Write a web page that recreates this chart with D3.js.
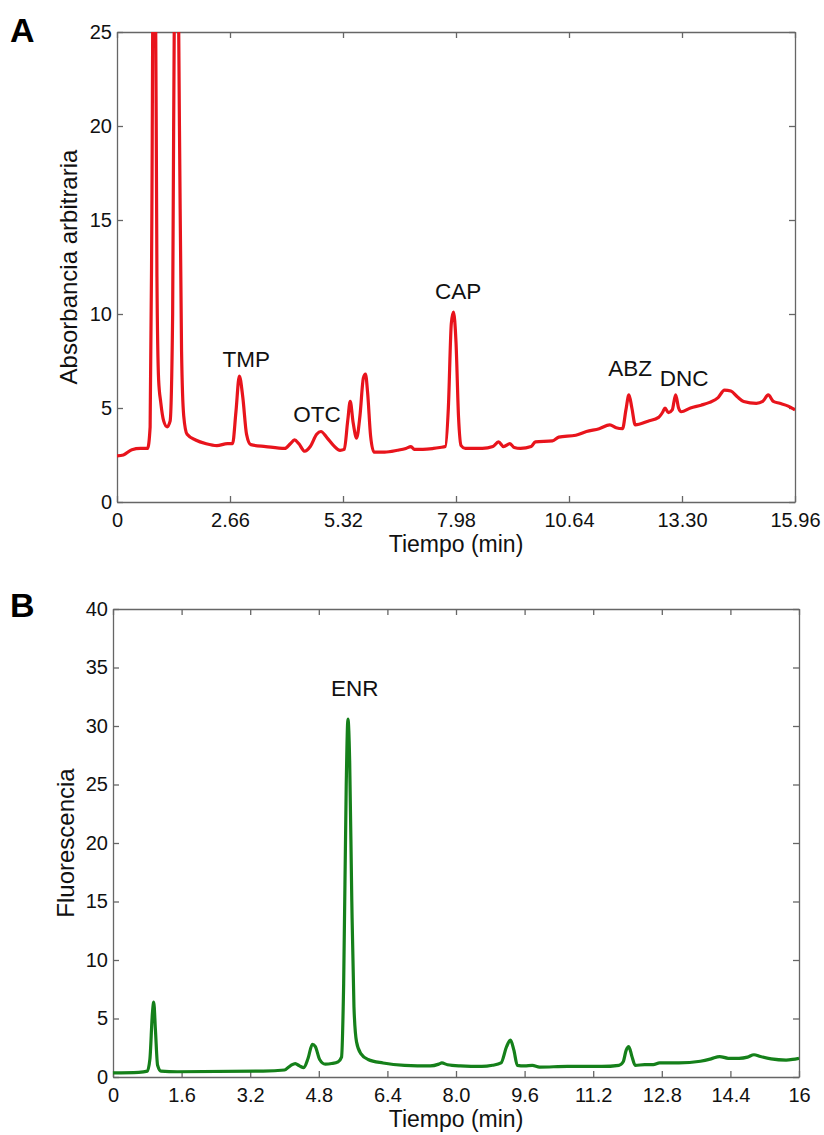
<!DOCTYPE html>
<html>
<head>
<meta charset="utf-8">
<script src="https://cdn.jsdelivr.net/npm/d3@7"></script>
<style>
  body { margin: 0; background: #fff; }
  svg { display: block; font-family: "Liberation Sans", Arial, sans-serif; }
  .axis path, .axis line { stroke: #666; stroke-width: 1.3px; }
  .axis text { fill: #111; font-size: 20px; }
</style>
</head>
<body>
<script>
// panel A - absorbance (min, a.u.)
var timeA = [0, 0.15, 0.35, 0.55, 0.72, 0.78, 0.82, 0.86, 0.90, 0.94, 0.98, 1.03, 1.10, 1.18, 1.25, 1.31, 1.36, 1.42, 1.47, 1.52, 1.57,
  1.65, 1.85, 2.10, 2.35, 2.60, 2.72, 2.80, 2.88, 2.96, 3.05, 3.15, 3.50, 3.95, 4.08, 4.18, 4.28, 4.42, 4.55, 4.70, 4.80, 4.95,
  5.10, 5.25, 5.35, 5.43, 5.49, 5.56, 5.64, 5.72, 5.80, 5.85, 5.90, 5.97, 6.05, 6.30, 6.60, 6.80, 6.92, 7.00, 7.20, 7.45, 7.60,
  7.73, 7.80, 7.87, 7.92, 7.98, 8.04, 8.10, 8.20, 8.60, 8.85, 8.98, 9.10, 9.25, 9.35, 9.50, 9.75, 9.85, 10.25, 10.40, 10.80,
  11.05, 11.35, 11.60, 11.75, 11.90, 11.98, 12.05, 12.12, 12.20, 12.50, 12.75, 12.85, 12.90, 12.98, 13.07, 13.15, 13.22, 13.28,
  13.50, 13.75, 13.95, 14.15, 14.30, 14.45, 14.60, 14.75, 15.05, 15.20, 15.33, 15.45, 15.60, 15.80, 15.96];
var absA = [2.45, 2.5, 2.78, 2.85, 2.85, 4, 15, 32, 30, 12, 6.5, 5.3, 4.3, 4.0, 4.3, 10, 30, 32, 20, 8, 4.6,
  3.6, 3.3, 3.1, 3.0, 3.1, 3.1, 4.8, 6.7, 5.6, 3.6, 3.05, 2.95, 2.85, 3.1, 3.3, 3.1, 2.7, 2.95, 3.6, 3.75, 3.4,
  3.0, 2.75, 2.8, 4.3, 5.35, 4.2, 3.4, 4.6, 6.6, 6.8, 5.8, 3.5, 2.65, 2.65, 2.75, 2.85, 2.95, 2.8, 2.8, 2.85, 2.9,
  2.95, 5.0, 9.5, 10.1, 8.5, 4.5, 3.0, 2.85, 2.85, 2.95, 3.2, 2.95, 3.1, 2.9, 2.85, 2.95, 3.2, 3.25, 3.45, 3.55,
  3.75, 3.9, 4.1, 3.95, 3.9, 4.9, 5.7, 5.0, 4.1, 4.3, 4.5, 4.8, 5.0, 4.75, 4.9, 5.7, 5.0, 4.8,
  5.0, 5.15, 5.3, 5.55, 5.95, 5.9, 5.6, 5.35, 5.25, 5.35, 5.7, 5.35, 5.25, 5.1, 4.9];

// panel B - fluorescence
var timeB = [0, 0.6, 0.8, 0.86, 0.92, 0.95, 0.99, 1.04, 1.12, 1.5, 3.5, 4.0, 4.15, 4.25, 4.35, 4.45, 4.55, 4.65, 4.72, 4.82,
  4.95, 5.1, 5.25, 5.33, 5.38, 5.44, 5.48, 5.52, 5.57, 5.62, 5.68, 5.78, 5.95, 6.3, 6.8, 7.4, 7.6, 7.67, 7.8, 8.1, 8.6,
  8.85, 9.05, 9.18, 9.27, 9.35, 9.43, 9.6, 9.78, 9.95, 10.6, 11.4, 11.8, 11.9, 11.97, 12.03, 12.1, 12.18, 12.4, 12.6,
  12.75, 13.2, 13.7, 13.95, 14.15, 14.35, 14.6, 14.8, 14.95, 15.1, 15.35, 15.7, 15.85, 16];
var fluoB = [0.35, 0.4, 0.5, 1.5, 5.5, 6.4, 4.0, 1.0, 0.5, 0.45, 0.5, 0.6, 1.0, 1.15, 0.95, 0.8, 1.6, 2.8, 2.6, 1.5,
  1.1, 1.15, 1.3, 1.7, 8, 25, 30.6, 27, 15, 6, 3, 2.0, 1.5, 1.2, 1.0, 0.95, 1.1, 1.2, 1.05, 0.95, 0.9,
  1.0, 1.2, 2.6, 3.15, 2.3, 1.0, 0.95, 1.0, 0.85, 0.9, 0.9, 1.0, 1.3, 2.3, 2.6, 1.8, 1.0, 1.05, 1.05,
  1.2, 1.2, 1.35, 1.55, 1.75, 1.6, 1.6, 1.7, 1.9, 1.75, 1.55, 1.45, 1.5, 1.6];

var ticksA = [0, 2.66, 5.32, 7.98, 10.64, 13.30, 15.96];
var tickLabelsA = ["0", "2.66", "5.32", "7.98", "10.64", "13.30", "15.96"];
var ticksB = [0, 1.6, 3.2, 4.8, 6.4, 8.0, 9.6, 11.2, 12.8, 14.4, 16];
var tickLabelsB = ["0", "1.6", "3.2", "4.8", "6.4", "8.0", "9.6", "11.2", "12.8", "14.4", "16"];
var yTicksA = [0, 5, 10, 15, 20, 25];
var yTicksB = [0, 5, 10, 15, 20, 25, 30, 35, 40];

// peak names with anchor (time, signal)
var peaksA = [
  {name: "TMP", t: 3.04, y: 7.2},
  {name: "OTC", t: 4.71, y: 4.26},
  {name: "CAP", t: 8.03, y: 10.8},
  {name: "ABZ", t: 12.08, y: 6.7},
  {name: "DNC", t: 13.35, y: 6.17}
];
var peaksB = [{name: "ENR", t: 5.64, y: 32.6}];

var svg = d3.select("body").append("svg")
    .attr("width", 824)
    .attr("height", 1135);

function drawPanel(opt) {
  var x = d3.scaleLinear().domain([0, opt.xmax]).range([opt.left, opt.right]);
  var y = d3.scaleLinear().domain([0, opt.ymax]).range([opt.bottom, opt.top]);

  var g = svg.append("g");

  g.append("clipPath").attr("id", opt.id + "-clip")
    .append("rect")
    .attr("x", opt.left).attr("y", opt.top)
    .attr("width", opt.right - opt.left).attr("height", opt.bottom - opt.top);

  var fmt = function(d) { return opt.tickLabels[opt.ticks.indexOf(d)]; };

  g.append("g").attr("class", "axis")
    .attr("transform", "translate(0," + opt.bottom + ")")
    .call(d3.axisBottom(x).tickValues(opt.ticks).tickFormat(fmt).tickSizeInner(-6).tickSizeOuter(0).tickPadding(11));
  g.append("g").attr("class", "axis")
    .attr("transform", "translate(0," + opt.top + ")")
    .call(d3.axisTop(x).tickValues(opt.ticks).tickFormat("").tickSizeInner(-6).tickSizeOuter(0));
  g.append("g").attr("class", "axis")
    .attr("transform", "translate(" + opt.left + ",0)")
    .call(d3.axisLeft(y).tickValues(opt.yTicks).tickFormat(d3.format("d")).tickSizeInner(-6).tickSizeOuter(0).tickPadding(5));
  g.append("g").attr("class", "axis")
    .attr("transform", "translate(" + opt.right + ",0)")
    .call(d3.axisRight(y).tickValues(opt.yTicks).tickFormat("").tickSizeInner(-6).tickSizeOuter(0));

  var line = d3.line()
    .x(function(d, i) { return x(opt.times[i]); })
    .y(function(d) { return y(d); })
    .curve(d3.curveMonotoneX);

  g.append("path")
    .datum(opt.values)
    .attr("clip-path", "url(#" + opt.id + "-clip)")
    .attr("fill", "none")
    .attr("stroke", opt.color)
    .attr("stroke-width", 3.2)
    .attr("stroke-linejoin", "round")
    .attr("d", line);

  g.selectAll(".peak")
    .data(opt.peaks)
    .enter().append("text")
    .attr("x", function(d) { return x(d.t); })
    .attr("y", function(d) { return y(d.y); })
    .attr("text-anchor", "middle")
    .attr("font-size", "22.5px")
    .attr("fill", "#111")
    .text(function(d) { return d.name; });

  g.append("text")
    .attr("x", (opt.left + opt.right) / 2)
    .attr("y", opt.bottom + 50)
    .attr("text-anchor", "middle")
    .attr("font-size", "23px")
    .attr("fill", "#111")
    .text("Tiempo (min)");

  g.append("text")
    .attr("transform", "translate(" + opt.yLabelX + "," + (opt.top + opt.bottom) / 2 + ") rotate(-90)")
    .attr("text-anchor", "middle")
    .attr("font-size", "24px")
    .attr("fill", "#111")
    .text(opt.yLabel);

  g.append("text")
    .attr("x", 10)
    .attr("y", opt.letterY)
    .attr("font-size", "34px")
    .attr("font-weight", "bold")
    .attr("fill", "#000")
    .text(opt.letter);
}

drawPanel({
  id: "a", letter: "A", letterY: 42,
  left: 117, right: 795, top: 32, bottom: 502,
  xmax: 15.96, ymax: 25,
  ticks: ticksA, tickLabels: tickLabelsA, yTicks: yTicksA,
  times: timeA, values: absA, peaks: peaksA,
  color: "#e8141c", yLabel: "Absorbancia arbitraria", yLabelX: 77
});

drawPanel({
  id: "b", letter: "B", letterY: 617,
  left: 113, right: 799, top: 609, bottom: 1077,
  xmax: 16, ymax: 40,
  ticks: ticksB, tickLabels: tickLabelsB, yTicks: yTicksB,
  times: timeB, values: fluoB, peaks: peaksB,
  color: "#15801a", yLabel: "Fluorescencia", yLabelX: 74
});
</script>
</body>
</html>
